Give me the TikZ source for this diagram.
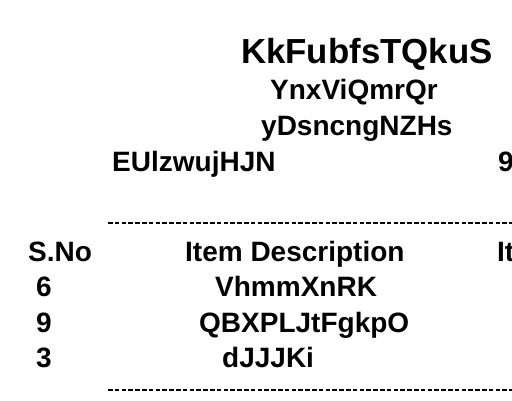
\documentclass[tikz,border=0pt]{standalone}
\usepackage{fontspec}
\setmainfont{Liberation Sans}
\begin{document}
\begin{tikzpicture}[x=1pt,y=1pt,
  txt/.style={anchor=base west,inner sep=0pt,font=\bfseries\fontsize{28}{30}\selectfont},
  ttl/.style={anchor=base west,inner sep=0pt,font=\bfseries\fontsize{34.8}{37}\selectfont},
  rule/.style={line width=1.6pt,dash pattern=on 4.6pt off 2.2pt}]
\useasboundingbox (0,0) rectangle (512,400);
\clip (0,0) rectangle (512,400);
\node[ttl] (title) at (241,337) {KkFubfsTQkuS};
\node[txt] (l1) at (270,301) {YnxViQmrQr};
\node[txt] (l2) at (261,265) {yDsncngNZHs};
\node[txt] (l3) at (112,229) {EUlzwujHJN};
\node[txt] (d) at (498,229) {9/};
\coordinate (r1a) at (108,177);
\coordinate (r1b) at (512,177);
\draw[rule] (r1a) -- (r1b);
\node[txt] (h1) at (28,139) {S.No};
\node[txt] (h2) at (185,139) {Item Description};
\node[txt] (h3) at (497,139) {It};
\node[txt] (n1) at (36,104) {6};
\node[txt] (i1) at (215,104) {VhmmXnRK};
\node[txt] (n2) at (36,68) {9};
\node[txt] (i2) at (199,68) {QBXPLJtFgkpO};
\node[txt] (n3) at (36,33) {3};
\node[txt] (i3) at (222,33) {dJJJKi};
\coordinate (r2a) at (108,10);
\coordinate (r2b) at (512,10);
\draw[rule] (r2a) -- (r2b);
\end{tikzpicture}
\end{document}
